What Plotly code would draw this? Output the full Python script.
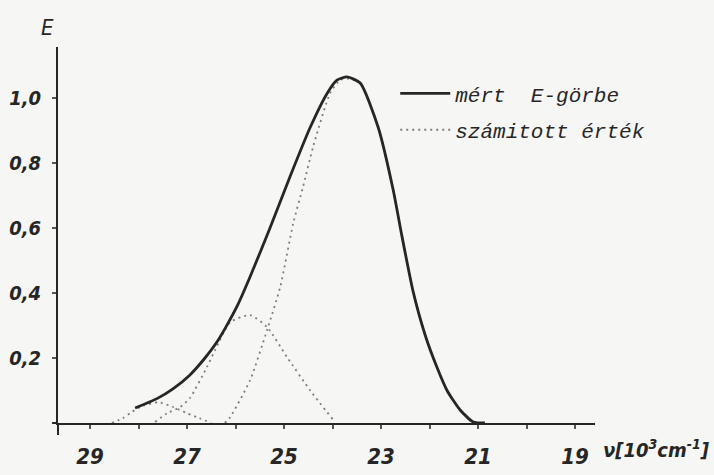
import plotly.graph_objects as go

# measured E-curve (wavenumber in 10^3 cm^-1, extinction E)
meas_nu = [28.07, 27.62, 27.29, 26.94, 26.63, 26.38, 26.20, 25.95, 25.70, 25.29, 24.88,
           24.46, 24.11, 23.91, 23.70, 23.43, 23.06, 22.75, 22.57, 22.34, 22.09, 21.85,
           21.64, 21.37, 21.10, 20.86]
meas_E = [0.046, 0.075, 0.105, 0.148, 0.20, 0.25, 0.295, 0.365, 0.45, 0.60, 0.757,
          0.91, 1.015, 1.055, 1.065, 1.046, 0.91, 0.717, 0.575, 0.405, 0.27, 0.172,
          0.10, 0.04, 0.003, 0.0]

# calculated components (dotted)
small_nu = [28.55, 28.32, 28.15, 27.95, 27.6, 27.3, 27.0, 26.75, 26.5]
small_E = [0.0, 0.015, 0.033, 0.05, 0.064, 0.05, 0.03, 0.015, 0.0]

mid_nu = [27.66, 27.41, 27.14, 26.94, 26.59, 26.42, 26.11, 25.70, 25.35, 24.94, 24.46, 23.99]
mid_E = [0.003, 0.03, 0.049, 0.077, 0.172, 0.225, 0.31, 0.332, 0.295, 0.203, 0.10, 0.01]

big_nu = [26.22, 26.11, 25.70, 25.35, 25.08, 24.81, 24.61, 24.40, 24.05, 23.85, 23.70,
          23.43, 23.06, 22.75, 22.57, 22.34, 22.09, 21.85, 21.64, 21.37, 21.10]
big_E = [0.0, 0.018, 0.132, 0.286, 0.418, 0.615, 0.726, 0.85, 1.015, 1.055, 1.06,
         1.046, 0.91, 0.717, 0.575, 0.405, 0.27, 0.172, 0.10, 0.04, 0.003]

x_ticks = [29, 28, 27, 26, 25, 24, 23, 22, 21, 20, 19]
x_labels = ["29", " ", "27", " ", "25", " ", "23", " ", "21", " ", "19"]
y_ticks = [0.2, 0.4, 0.6, 0.8, 1.0]
y_labels = ["0,2", "0,4", "0,6", "0,8", "1,0"]

INK = "#262626"
DOT = "#7d7d7d"
BG = "#f6f6f4"
NARROW = "DejaVu Sans Condensed, Liberation Sans Narrow, Arial Narrow, sans-serif"
MONO = "Liberation Mono, DejaVu Sans Mono, monospace"

fig = go.Figure()
dot_line = dict(color=DOT, width=1.8, dash="2px,4px", shape="spline", smoothing=0.6)
fig.add_trace(go.Scatter(x=big_nu, y=big_E, mode="lines", line=dot_line,
                         name="számitott érték", legendgroup="b", showlegend=True,
                         legendrank=2))
fig.add_trace(go.Scatter(x=mid_nu, y=mid_E, mode="lines", line=dot_line,
                         legendgroup="b", showlegend=False))
fig.add_trace(go.Scatter(x=small_nu, y=small_E, mode="lines", line=dot_line,
                         legendgroup="b", showlegend=False))
fig.add_trace(go.Scatter(x=meas_nu, y=meas_E, mode="lines",
                         line=dict(color=INK, width=2.8, shape="spline", smoothing=0.6),
                         name="mért  E-görbe", legendgroup="a", legendrank=1))

xtickfont = dict(family=NARROW, size=22, color=INK, style="italic", weight="bold")
ytickfont = dict(family=NARROW, size=20, color=INK, style="italic", weight="bold")

fig.update_layout(
    width=714, height=475,
    margin=dict(l=58, r=119, t=47, b=52),
    paper_bgcolor=BG, plot_bgcolor=BG,
    showlegend=True,
    legend=dict(x=0.628, y=0.93, xanchor="left", yanchor="top",
                bgcolor="rgba(0,0,0,0)", traceorder="grouped", tracegroupgap=6,
                itemwidth=50,
                font=dict(family=MONO, size=21, color=INK, style="italic")),
    xaxis=dict(range=[29.66, 18.59], showgrid=False, zeroline=False, automargin=False,
               showline=True, linecolor=INK, linewidth=2,
               tickmode="array", tickvals=x_ticks, ticktext=x_labels,
               ticks="outside", ticklen=4, tickwidth=1.5, tickcolor="#555",
               ticklabelstandoff=9, tickfont=xtickfont),
    yaxis=dict(range=[0, 1.157], showgrid=False, zeroline=False, automargin=False,
               showline=True, linecolor=INK, linewidth=2,
               tickmode="array", tickvals=y_ticks, ticktext=y_labels,
               ticks="outside", ticklen=4, tickwidth=1.5, tickcolor="#555",
               ticklabelstandoff=7, tickfont=ytickfont),
    annotations=[
        dict(text="E", xref="paper", yref="paper", x=-0.02, y=1.053,
             xanchor="center", yanchor="middle", showarrow=False,
             font=dict(family=NARROW, size=22, color=INK, style="italic")),
        dict(text="ν[10<sup>3</sup>cm<sup>-1</sup>]", xref="paper", yref="paper",
             x=1.012, y=-0.03, xanchor="left", yanchor="top", showarrow=False,
             font=dict(family=NARROW, size=20, color=INK, style="italic", weight="bold")),
    ],
    shapes=[
        dict(type="line", xref="paper", yref="paper", x0=0, x1=0, y0=0, y1=-0.032,
             line=dict(color=INK, width=2)),
        dict(type="line", xref="paper", yref="paper", x0=-0.011, x1=0, y0=0, y1=0,
             line=dict(color=INK, width=2)),
    ],
)

fig.write_html("out.html")
